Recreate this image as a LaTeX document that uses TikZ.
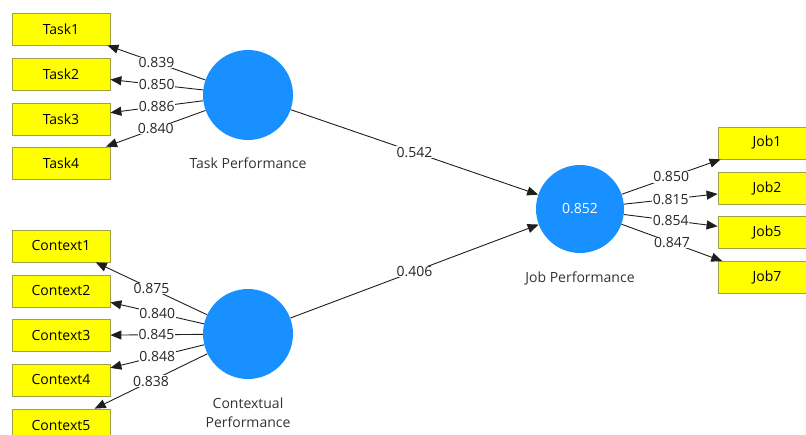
\documentclass[tikz,border=0pt]{standalone}
\usepackage{fontspec}
\setmainfont{Open Sans}
\usetikzlibrary{arrows.meta}
\definecolor{indyellow}{RGB}{255,255,0}
\definecolor{indborder}{RGB}{160,160,70}
\definecolor{latentblue}{RGB}{24,144,255}
\definecolor{edgegray}{RGB}{30,30,30}
\tikzset{
  indicator/.style={draw=indborder, fill=indyellow, line width=0.8pt,
    minimum width=98pt, minimum height=32pt, inner sep=0pt,
    font=\fontsize{14}{16}\selectfont},
  latent/.style={circle, fill=latentblue, draw=none, minimum size=90pt,
    inner sep=0pt, text=white, font=\fontsize{14}{16}\selectfont},
  caption/.style={font=\fontsize{14}{19}\selectfont, text=black!80, align=center},
  link/.style={draw=edgegray, line width=0.9pt,
    -{Triangle[length=11pt,width=9pt]}},
  coef/.style={fill=white, inner sep=0.6pt, text=black!85,
    font=\fontsize{14}{16}\selectfont}
}
\begin{document}
\begin{tikzpicture}[x=1pt,y=-1pt]
\useasboundingbox (0,0) rectangle (806,435);
\begin{scope}
\clip (0,0) rectangle (806,435);

% latent constructs
\node[latent] (tp) at (248,95) {};
\node[latent] (cp) at (248,334) {};
\node[latent, minimum size=88pt] (jp) at (580,209) {0.852};

\node[caption] (tpl) at (248,163) {Task Performance};
\node[caption] (cpl) at (248,413) {Contextual\\Performance};
\node[caption] (jpl) at (580,278) {Job Performance};

% indicators of Task Performance
\node[indicator] (t1) at (61,29) {Task1};
\node[indicator] (t2) at (61,74) {Task2};
\node[indicator] (t3) at (61,119) {Task3};
\node[indicator] (t4) at (61,163) {Task4};

% indicators of Contextual Performance
\node[indicator] (c1) at (61,246) {Context1};
\node[indicator] (c2) at (61,291) {Context2};
\node[indicator] (c3) at (61,335.5) {Context3};
\node[indicator] (c4) at (61,380) {Context4};
\node[indicator] (c5) at (61,425) {Context5};

% indicators of Job Performance
\node[indicator] (j1) at (767,143) {Job1};
\node[indicator] (j2) at (767,188.5) {Job2};
\node[indicator] (j5) at (767,232.5) {Job5};
\node[indicator] (j7) at (767,277.5) {Job7};

% outer loadings
\draw[link] (tp) -- node[coef] {0.839} (t1);
\draw[link] (tp) -- node[coef] {0.850} (t2);
\draw[link] (tp) -- node[coef] {0.886} (t3);
\draw[link] (tp) -- node[coef] {0.840} (t4);

\draw[link] (cp) -- node[coef] {0.875} (c1);
\draw[link] (cp) -- node[coef] {0.840} (c2);
\draw[link] (cp) -- node[coef] {0.845} (c3);
\draw[link] (cp) -- node[coef] {0.848} (c4);
\draw[link] (cp) -- node[coef] {0.838} (c5);

\draw[link] (jp) -- node[coef] {0.850} (j1);
\draw[link] (jp) -- node[coef] {0.815} (j2);
\draw[link] (jp) -- node[coef] {0.854} (j5);
\draw[link] (jp) -- node[coef] {0.847} (j7);

% path coefficients
\draw[link] (tp) -- node[coef] {0.542} (jp);
\draw[link] (cp) -- node[coef] {0.406} (jp);
\end{scope}
\end{tikzpicture}
\end{document}
